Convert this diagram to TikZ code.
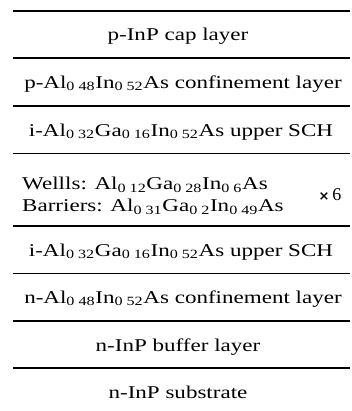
\documentclass[tikz,border=0pt]{standalone}
\usepackage{fontspec}
\setmainfont{Liberation Serif}
\newfontfamily\symfont{DejaVu Sans}
\newcommand{\sx}[1]{\scalebox{1.28}[1]{#1}}
\newcommand{\sbs}[1]{\textsubscript{#1}}
\begin{document}
\begin{tikzpicture}[x=1pt,y=-1pt,
  sep/.style={line width=1.7pt},
  lbl/.style={font=\fontsize{18}{22}\selectfont, inner sep=0pt}]
\useasboundingbox (0,0) rectangle (352,411);
% separator end points
\foreach \i/\y in {1/11,2/58,3/106,4/153.5,5/226,6/273.5,7/321,8/368}{
  \coordinate (s\i a) at (13,\y);
  \coordinate (s\i b) at (350,\y);
}
\foreach \i in {1,...,8}{\draw[sep] (s\i a) -- (s\i b);}
% layers
\node[lbl] (cap) at (178,36) {\sx{p-InP cap layer}};
\node[lbl] (pcl) at (183,84) {\sx{p-Al\sbs{0 48}In\sbs{0 52}As confinement layer}};
\node[lbl] (usch) at (181,132) {\sx{i-Al\sbs{0 32}Ga\sbs{0 16}In\sbs{0 52}As upper SCH}};
\node[lbl, anchor=west, align=left] (mqw) at (22,196) {\sx{Wellls: Al\sbs{0 12}Ga\sbs{0 28}In\sbs{0 6}As}\\\sx{Barriers: Al\sbs{0 31}Ga\sbs{0 2}In\sbs{0 49}As}};
\node[lbl] (x6) at (330,195) {{\symfont\bfseries\fontsize{13}{13}\selectfont ×}\,6};
\node[lbl] (lsch) at (181,252) {\sx{i-Al\sbs{0 32}Ga\sbs{0 16}In\sbs{0 52}As upper SCH}};
\node[lbl] (ncl) at (183,299) {\sx{n-Al\sbs{0 48}In\sbs{0 52}As confinement layer}};
\node[lbl] (buf) at (178,347) {\sx{n-InP buffer layer}};
\node[lbl] (sub) at (178,392) {\sx{n-InP substrate}};
\end{tikzpicture}
\end{document}
